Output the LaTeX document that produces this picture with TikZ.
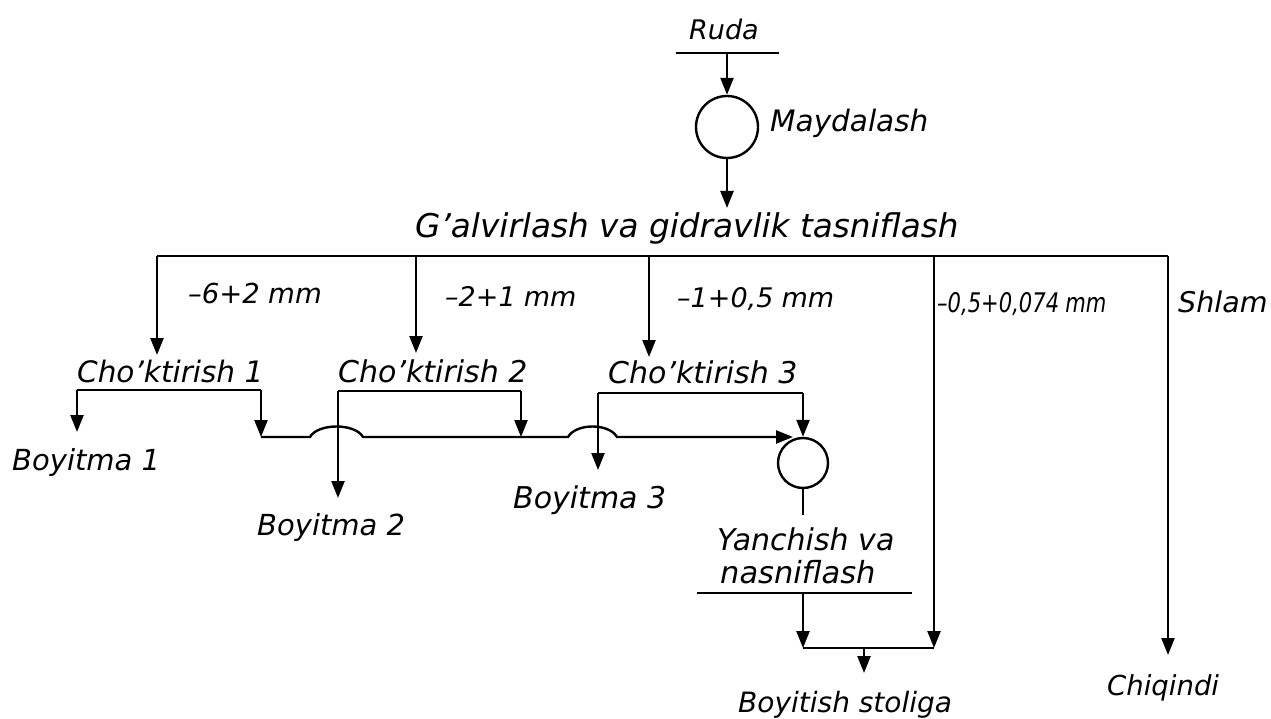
\documentclass[tikz,border=0pt]{standalone}
\usepackage{fontspec}
\usepackage{graphicx}
\setmainfont{DejaVu Sans}
\usetikzlibrary{arrows.meta}
\begin{document}
\begin{tikzpicture}[x=1pt,y=-1pt,
  lbl/.style={font=\fontsize{#1}{#1}\selectfont\itshape, inner sep=0pt, anchor=base west},
  ln/.style={line width=2.4pt},
  arr/.style={line width=2.4pt, -{Triangle[length=17pt,width=13pt]}},
  mach/.style={circle, draw, line width=2.4pt, inner sep=0pt}]
\useasboundingbox[fill=white] (0,0) rectangle (1271,719);

% Ruda and crushing
\node[lbl=27] (ruda) at (689,40) {Ruda};
\coordinate (rudaL) at (676,53);
\coordinate (rudaR) at (779,53);
\coordinate (rudaM) at (727,53);
\draw[ln] (rudaL) -- (rudaR);
\node[mach, minimum size=62pt] (m1) at (727,127) {};
\node[lbl=29.5] (mayd) at (770,132) {Maydalash};
\draw[arr] (rudaM) -- (m1.north);
\coordinate (gtop) at (727,208);
\draw[arr] (m1.south) -- (gtop);
\node[lbl=32.7] (galv) at (415,238) {G’alvirlash va gidravlik tasniflash};

% main distribution line
\coordinate (b1) at (157,256);
\coordinate (b2) at (416,256);
\coordinate (b3) at (649,256);
\coordinate (b4) at (934,256);
\coordinate (b5) at (1168,256);
\draw[ln] (b1) -- (b5);

\node[lbl=27.5] (f1) at (188,303) {–6+2\hspace{0.3em}mm};
\node[lbl=27] (f2) at (445,306) {–2+1\hspace{0.3em}mm};
\node[lbl=27] (f3) at (677,307) {–1+0,5\hspace{0.3em}mm};
\node[lbl=27] (f4) at (937,312) {\scalebox{0.78}[1]{–0,5+0,074\hspace{0.3em}mm}};
\node[lbl=28.5] (shlam) at (1178,312) {Shlam};

% Cho'ktirish 1
\coordinate (t1) at (157,355);
\draw[arr] (b1) -- (t1);
\node[lbl=29.5] (ch1) at (77,382) {Cho’ktirish 1};
\coordinate (ch1L) at (77,390);
\coordinate (ch1R) at (261,390);
\draw[ln] (ch1L) -- (ch1R);
\coordinate (bo1t) at (77,432);
\draw[arr] (ch1L) -- (bo1t);
\node[lbl=29] (bo1) at (12,470) {Boyitma 1};

% Cho'ktirish 2
\coordinate (t2) at (416,353);
\draw[arr] (b2) -- (t2);
\node[lbl=30] (ch2) at (338,382) {Cho’ktirish 2};
\coordinate (ch2L) at (338,391);
\coordinate (ch2R) at (521,391);
\draw[ln] (ch2L) -- (ch2R);
\coordinate (bo2t) at (338,498);
\draw[arr] (ch2L) -- (bo2t);
\node[lbl=29] (bo2) at (257,535) {Boyitma 2};

% Cho'ktirish 3
\coordinate (t3) at (649,357);
\draw[arr] (b3) -- (t3);
\node[lbl=30] (ch3) at (608,383) {Cho’ktirish 3};
\node[mach, minimum size=50pt] (m2) at (803,463) {};
\coordinate (ch3L) at (598,393);
\coordinate (ch3R) at (803,393);
\draw[ln] (ch3L) -- (ch3R);
\coordinate (bo3t) at (598,470);
\draw[arr] (ch3L) -- (bo3t);
\node[lbl=30] (bo3) at (513,508) {Boyitma 3};
\draw[arr] (ch3R) -- (m2.north);

% tailings flow line
\coordinate (f0) at (261,437);
\coordinate (ch2d) at (521,437);
\coordinate (fend) at (793,437);
\draw[arr] (ch1R) -- (f0);
\draw[arr] (ch2R) -- (ch2d);
\draw[arr] (f0) -- ++(49,0) .. controls ++(8,-14) and ++(-8,-14) .. ++(53,0)
   -- ++(205,0) .. controls ++(8,-14) and ++(-8,-14) .. ++(49,0) -- (fend);

% grinding
\coordinate (m2b) at (803,515);
\draw[ln] (m2.south) -- (m2b);
\node[lbl=30] (yan) at (717,550) {Yanchish va};
\node[lbl=30.5] (nas) at (720,583) {nasniflash};
\coordinate (yL) at (697,593);
\coordinate (yR) at (912,593);
\coordinate (yM) at (803,593);
\draw[ln] (yL) -- (yR);
\coordinate (jL) at (803,648);
\coordinate (jR) at (934,648);
\coordinate (jM) at (864,648);
\draw[arr] (yM) -- (jL);
\draw[arr] (b4) -- (jR);
\draw[ln] (jL) -- (jR);
\coordinate (st) at (864,673);
\draw[arr] (jM) -- (st);
\node[lbl=28] (stol) at (738,712) {Boyitish stoliga};

% Shlam
\coordinate (t5) at (1168,655);
\draw[arr] (b5) -- (t5);
\node[lbl=27.5] (chiq) at (1107,695) {Chiqindi};
\end{tikzpicture}
\end{document}
